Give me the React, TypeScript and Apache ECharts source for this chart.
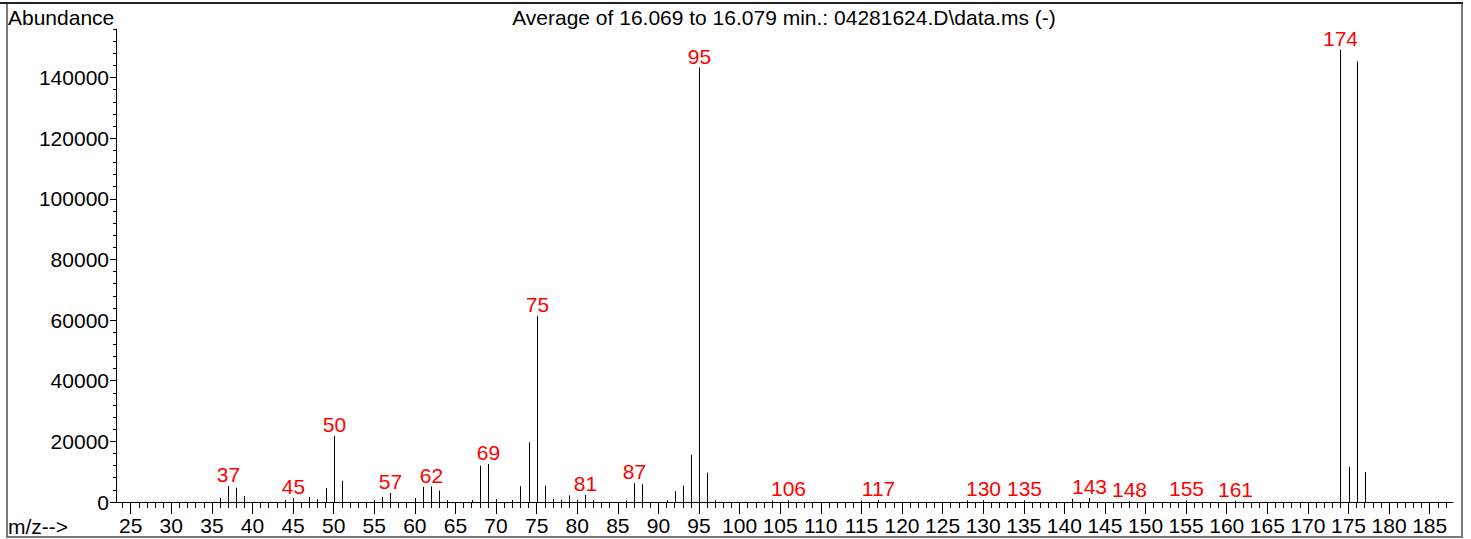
import React, { useEffect, useRef } from "react";
import * as echarts from "echarts";

const masses = [36, 37, 38, 39, 44, 45, 47, 48, 49, 50, 51, 55, 56, 57, 60, 61, 62, 63, 64, 67, 68, 69, 70, 72, 73, 74, 75, 76, 77, 78, 79, 80, 81, 82, 86, 87, 88, 91, 92, 93, 94, 95, 96, 97, 104, 106, 115, 117, 128, 130, 135, 141, 143, 148, 155, 161, 174, 175, 176, 177];
const abundances = [1300, 5300, 4700, 2000, 700, 1200, 1700, 900, 4600, 21800, 7000, 600, 1700, 3000, 1300, 5000, 5100, 3800, 600, 600, 12000, 12500, 1000, 700, 5200, 19700, 61400, 5400, 1000, 800, 2200, 800, 2300, 600, 500, 6200, 5900, 600, 3600, 5400, 15600, 143300, 9700, 600, 500, 600, 500, 700, 500, 600, 500, 1100, 1300, 400, 500, 400, 149200, 11600, 145300, 9900];
const labeledMasses = [37, 45, 50, 57, 62, 69, 75, 81, 87, 95, 106, 117, 130, 135, 143, 148, 155, 161, 174];

const xMajorTicks: number[] = [];
for (let v = 25; v <= 185; v += 5) xMajorTicks.push(v);
const xMinorTicks: number[] = [];
for (let v = 24; v <= 187; v += 1) if (v % 5 !== 0) xMinorTicks.push(v);
const yLabelValues = [0, 20000, 40000, 60000, 80000, 100000, 120000, 140000];
const yMinorTicks: number[] = [];
for (let v = 0; v <= 156000; v += 4000) if (v % 20000 !== 0) yMinorTicks.push(v);

const titleText = "Average of 16.069 to 16.079 min.: 04281624.D\\data.ms (-)";
const FONT = '"Liberation Sans", Arial, sans-serif';
const FS = 21;

export default function App() {
  const ref = useRef<HTMLDivElement>(null);
  useEffect(() => {
    if (!ref.current) return;
    const chart = echarts.init(ref.current, null, { renderer: "svg" });
    const data = masses.map((m, i) => [m, abundances[i]]);
    const xMin = 23.19;
    const xMax = 187.87;
    const yMax = 156000;
    chart.setOption({
      animation: false,
      textStyle: { fontFamily: FONT },
      grid: { left: 116, right: 18, top: 29, bottom: 37, containLabel: false },
      xAxis: [
        {
          type: "value",
          min: xMin,
          max: xMax,
          position: "bottom",
          axisLine: { show: true, lineStyle: { color: "#000", width: 1 } },
          axisTick: { show: true, customValues: xMinorTicks, length: 6, lineStyle: { color: "#000" } },
          axisLabel: {
            show: true,
            customValues: xMajorTicks,
            color: "#000",
            fontSize: FS,
            margin: 13,
            fontFamily: FONT,
            formatter: (v: number) => String(v),
          },
          splitLine: { show: false },
        },
        {
          type: "value",
          min: xMin,
          max: xMax,
          position: "bottom",
          axisLine: { show: false },
          axisTick: { show: true, customValues: xMajorTicks, length: 12, lineStyle: { color: "#000" } },
          axisLabel: { show: false },
          splitLine: { show: false },
        },
      ],
      yAxis: [
        {
          type: "value",
          min: 0,
          max: yMax,
          position: "left",
          axisLine: { show: true, lineStyle: { color: "#000", width: 1 } },
          axisTick: { show: true, customValues: yLabelValues, length: 6, lineStyle: { color: "#000" } },
          axisLabel: {
            show: true,
            customValues: yLabelValues,
            color: "#000",
            fontSize: FS,
            margin: 7,
            fontFamily: FONT,
            formatter: (v: number) => String(v),
          },
          splitLine: { show: false },
        },
        {
          type: "value",
          min: 0,
          max: yMax,
          position: "left",
          axisLine: { show: false },
          axisTick: { show: true, customValues: yMinorTicks, length: 3, lineStyle: { color: "#000" } },
          axisLabel: { show: false },
          splitLine: { show: false },
        },
      ],
      series: [
        {
          type: "custom",
          xAxisIndex: 0,
          yAxisIndex: 0,
          clip: false,
          data,
          renderItem: (params: any, api: any) => {
            const m = api.value(0);
            const v = api.value(1);
            const base = api.coord([m, 0]);
            const top = api.coord([m, v]);
            const x = Math.round(base[0]) + 0.5;
            const children: any[] = [
              {
                type: "line",
                shape: { x1: x, y1: base[1], x2: x, y2: top[1] },
                style: { stroke: "#000", lineWidth: 1 },
              },
            ];
            if (labeledMasses.indexOf(m) >= 0) {
              children.push({
                type: "text",
                x: x,
                y: top[1] - 1,
                style: {
                  text: String(m),
                  fill: "#ff0000",
                  font: `${FS}px ${FONT}`,
                  textAlign: "center",
                  textVerticalAlign: "bottom",
                },
              });
            }
            return { type: "group", children };
          },
        },
      ],
      graphic: [
        {
          type: "rect",
          shape: { x: 7, y: 3, width: 1455, height: 534 },
          style: { fill: "none", stroke: "#7a7a7a", lineWidth: 2 },
          silent: true,
        },
        {
          type: "line",
          shape: { x1: 0, y1: 3, x2: 1463, y2: 3 },
          style: { stroke: "#222", lineWidth: 2 },
          silent: true,
        },
        {
          type: "text",
          x: 8,
          y: 17,
          style: { text: "Abundance", fill: "#000", font: `${FS}px ${FONT}`, textAlign: "left", textVerticalAlign: "middle" },
        },
        {
          type: "text",
          x: 784,
          y: 17,
          style: { text: titleText, fill: "#000", font: `${FS}px ${FONT}`, textAlign: "center", textVerticalAlign: "middle" },
        },
        {
          type: "text",
          x: 8,
          y: 526,
          style: { text: "m/z-->", fill: "#000", font: `${FS}px ${FONT}`, textAlign: "left", textVerticalAlign: "middle" },
        },
      ],
    });
    return () => chart.dispose();
  }, []);
  return <div ref={ref} style={{ position: "absolute", left: 0, top: 0, width: 1471, height: 539 }} />;
}
